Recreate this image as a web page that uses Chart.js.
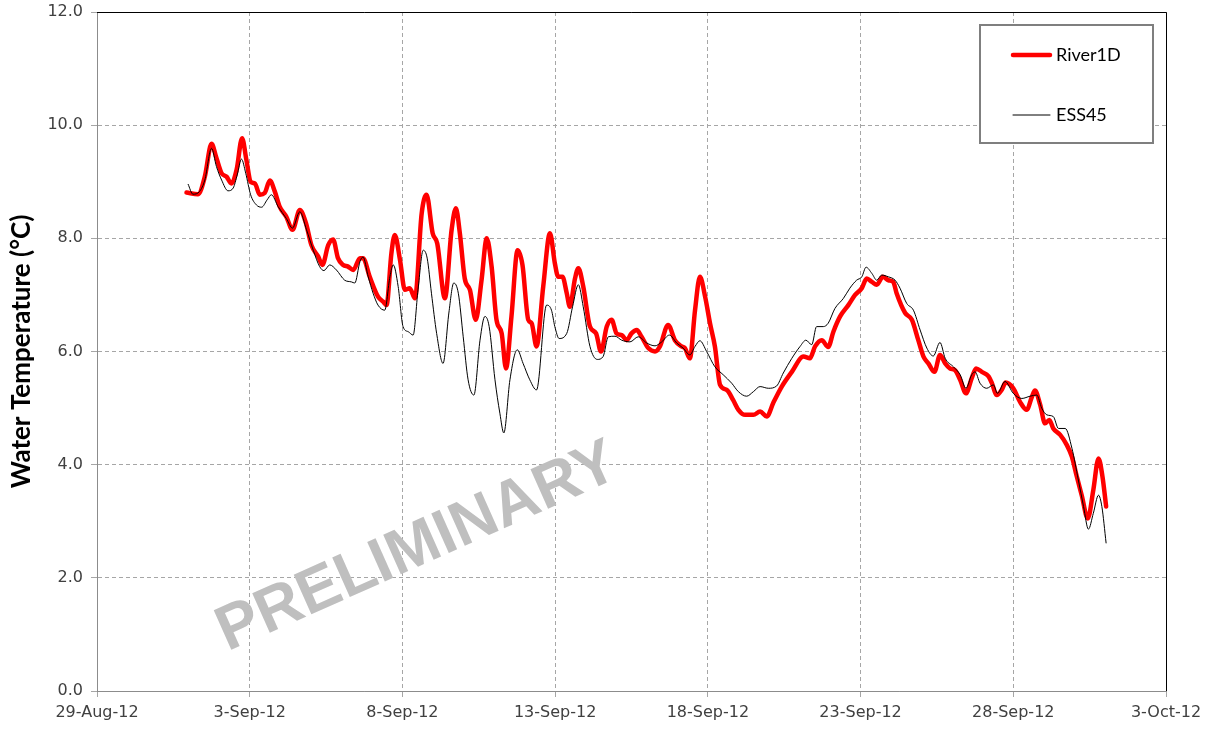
<!DOCTYPE html>
<html>
<head>
<meta charset="utf-8">
<script src="https://cdn.jsdelivr.net/npm/chart.js@4.4.1/dist/chart.umd.min.js"></script>
<style>
  html, body { margin: 0; padding: 0; background: #ffffff; }
  #wrap { width: 1213px; height: 734px; position: relative; }
</style>
</head>
<body>
<div id="wrap"><canvas id="chart" width="1213" height="734"></canvas></div>
<script>
// Time axis: days since 29-Aug-2012 00:00
const xTickLabels = ['29-Aug-12', '3-Sep-12', '8-Sep-12', '13-Sep-12', '18-Sep-12', '23-Sep-12', '28-Sep-12', '3-Oct-12'];

// River1D modelled water temperature (°C)
const river1dDays = [2.93,3.31,3.53,3.75,3.91,4.08,4.24,4.40,4.57,4.75,
  4.89,5.03,5.17,5.33,5.49,5.66,5.82,5.98,6.20,6.40,
  6.64,6.84,7.02,7.24,7.38,7.57,7.73,7.89,8.06,8.22,
  8.39,8.61,8.71,8.93,9.20,9.37,9.48,9.64,9.75,9.92,
  10.08,10.24,10.41,10.63,10.79,10.99,11.14,11.39,11.61,11.75,
  11.88,12.04,12.21,12.40,12.59,12.76,12.92,13.08,13.25,13.39,
  13.57,13.77,13.93,14.12,14.23,14.39,14.61,14.83,14.99,15.10,
  15.24,15.38,15.48,15.65,15.76,15.92,16.14,16.34,16.50,16.69,
  16.85,17.01,17.18,17.34,17.50,17.67,17.83,18.05,18.27,18.43,
  18.70,18.92,19.14,19.25,19.41,19.58,19.74,19.91,20.07,20.23,
  20.40,20.62,20.83,21.00,21.22,21.49,21.71,21.93,22.14,22.42,
  22.75,23.13,23.34,23.51,23.73,23.94,24.11,24.33,24.60,24.82,
  25.04,25.20,25.37,25.53,25.73,25.91,26.07,26.18,26.46,26.68,
  26.89,27.06,27.22,27.42,27.60,27.77,27.93,28.09,28.26,28.45,
  28.64,28.78,28.97,29.19,29.30,29.46,29.62,29.75,30.00,30.22,
  30.44,30.61,30.71,30.88,31.04,31.18,31.31,31.53,31.75,31.92,
  32.08,32.24,32.44,32.62,32.79,32.92,33.04];
const river1dTemps = [8.81,8.78,9.09,9.67,9.42,9.15,9.09,8.97,9.21,9.77,
  9.39,9.00,8.97,8.77,8.80,9.02,8.83,8.56,8.38,8.15,
  8.50,8.27,7.88,7.68,7.53,7.88,7.98,7.65,7.53,7.50,
  7.44,7.65,7.65,7.32,6.97,6.88,6.82,7.74,8.06,7.62,
  7.09,7.12,6.94,8.44,8.77,8.09,7.91,6.94,8.15,8.53,
  8.09,7.29,7.09,6.56,7.26,8.00,7.50,6.56,6.32,5.70,
  6.62,7.79,7.53,6.56,6.50,6.09,7.15,8.09,7.56,7.32,
  7.32,7.03,6.79,7.29,7.47,7.15,6.44,6.32,6.00,6.44,
  6.56,6.32,6.29,6.20,6.32,6.38,6.26,6.06,6.00,6.09,
  6.47,6.20,6.09,6.06,5.88,6.73,7.32,6.97,6.50,6.09,
  5.41,5.32,5.14,4.97,4.88,4.88,4.94,4.85,5.09,5.38,
  5.64,5.91,5.88,6.09,6.20,6.08,6.35,6.62,6.82,7.00,
  7.12,7.29,7.23,7.18,7.32,7.26,7.23,7.03,6.68,6.56,
  6.20,5.91,5.79,5.64,5.94,5.79,5.70,5.67,5.50,5.26,
  5.53,5.70,5.64,5.56,5.44,5.23,5.32,5.45,5.35,5.11,
  4.97,5.20,5.31,5.06,4.73,4.79,4.64,4.53,4.35,4.14,
  3.79,3.46,3.05,3.55,4.11,3.79,3.26];

// ESS45 measured water temperature (°C)
const ess45Days = [2.98,3.14,3.36,3.53,3.75,3.91,4.08,4.29,4.46,4.59,
  4.73,4.87,5.03,5.22,5.39,5.57,5.71,5.93,6.20,6.40,
  6.64,6.86,7.08,7.29,7.43,7.62,7.84,8.11,8.33,8.44,
  8.61,8.71,8.88,9.04,9.20,9.42,9.59,9.70,9.86,10.02,
  10.19,10.35,10.51,10.68,10.81,10.95,11.12,11.33,11.52,11.68,
  11.83,11.99,12.15,12.34,12.54,12.70,12.84,13.03,13.19,13.32,
  13.52,13.76,13.95,14.17,14.39,14.72,14.88,14.99,15.13,15.38,
  15.57,15.76,15.92,16.14,16.38,16.57,16.74,16.96,17.18,17.45,
  17.72,18.00,18.27,18.49,18.74,18.98,19.19,19.41,19.58,19.74,
  19.96,20.23,20.50,20.78,21.00,21.27,21.49,21.71,21.98,22.25,
  22.47,22.75,23.02,23.21,23.40,23.56,23.78,23.94,24.16,24.44,
  24.65,24.87,25.04,25.18,25.37,25.53,25.69,25.91,26.13,26.29,
  26.51,26.73,26.95,27.17,27.38,27.60,27.77,28.04,28.26,28.45,
  28.64,28.75,28.91,29.13,29.35,29.48,29.73,30.00,30.28,30.55,
  30.77,30.93,31.10,31.31,31.48,31.70,31.92,32.13,32.30,32.46,
  32.62,32.79,32.90,33.04];
const ess45Temps = [8.96,8.78,8.83,9.03,9.59,9.27,9.03,8.84,8.89,9.12,
  9.40,9.15,8.77,8.59,8.55,8.68,8.77,8.56,8.35,8.18,
  8.47,8.15,7.79,7.50,7.43,7.53,7.44,7.26,7.23,7.21,
  7.59,7.67,7.32,7.03,6.82,6.73,7.32,7.53,7.15,6.44,
  6.35,6.29,7.09,7.79,7.65,7.03,6.32,5.79,6.68,7.21,
  7.03,6.26,5.50,5.23,6.20,6.62,6.44,5.50,4.91,4.56,
  5.50,6.03,5.79,5.50,5.32,6.82,6.73,6.44,6.23,6.32,
  6.79,7.18,6.79,6.09,5.86,5.91,6.26,6.27,6.20,6.17,
  6.26,6.15,6.10,6.17,6.29,6.15,6.06,5.94,6.09,6.19,
  6.00,5.73,5.59,5.44,5.29,5.21,5.29,5.38,5.35,5.39,
  5.62,5.88,6.09,6.20,6.12,6.44,6.44,6.50,6.76,6.94,
  7.12,7.26,7.32,7.49,7.38,7.26,7.35,7.32,7.26,7.12,
  6.85,6.73,6.38,6.06,5.92,6.16,5.88,5.73,5.59,5.35,
  5.59,5.64,5.44,5.35,5.41,5.26,5.47,5.26,5.17,5.21,
  5.23,5.00,4.88,4.85,4.64,4.64,4.29,3.73,3.26,2.86,
  3.14,3.46,3.26,2.61];

const toPoints = (days, temps) => days.map((d, i) => ({ x: d, y: temps[i] }));

const gridColor = '#a6a6a6';
const tickFont = { family: 'DejaVu Sans', size: 16 };

// Diagonal "PRELIMINARY" stamp placed in data coordinates
const stampPlugin = {
  id: 'stamp',
  beforeDatasetsDraw(chart) {
    const { ctx, scales } = chart;
    const x = scales.x.getPixelForValue(10.5);
    const y = scales.y.getPixelForValue(2.53);
    ctx.save();
    ctx.translate(x, y);
    ctx.rotate(-24 * Math.PI / 180);
    ctx.font = 'bold 63px "Liberation Sans", Arial, sans-serif';
    ctx.fillStyle = '#bfbfbf';
    ctx.textAlign = 'center';
    ctx.textBaseline = 'middle';
    ctx.fillText('PRELIMINARY', 0, 0);
    ctx.restore();
  }
};

// Dark frame along the top and right of the plot area
const framePlugin = {
  id: 'frame',
  afterDatasetsDraw(chart) {
    const { ctx, chartArea: a } = chart;
    ctx.save();
    ctx.strokeStyle = '#000000';
    ctx.lineWidth = 1;
    ctx.beginPath();
    ctx.moveTo(a.left, a.top + 0.5);
    ctx.lineTo(a.right + 0.5, a.top + 0.5);
    ctx.lineTo(a.right + 0.5, a.bottom);
    ctx.stroke();
    ctx.restore();
  }
};

// Boxed legend inside the top-right corner of the plot
const boxLegendPlugin = {
  id: 'boxLegend',
  afterDraw(chart) {
    const { ctx, chartArea: a } = chart;
    const w = 173, h = 118;
    const left = a.right - 13 - w, top = a.top + 13;
    ctx.save();
    ctx.fillStyle = '#ffffff';
    ctx.fillRect(left, top, w, h);
    ctx.strokeStyle = '#7f7f7f';
    ctx.lineWidth = 2;
    ctx.strokeRect(left, top, w, h);
    const sets = chart.data.datasets;
    const rows = [sets.find(d => d.label === 'River1D'), sets.find(d => d.label === 'ESS45')];
    rows.forEach((ds, i) => {
      const y = top + 30 + i * 60;
      ctx.strokeStyle = ds.borderColor;
      ctx.lineWidth = ds.borderWidth;
      ctx.lineCap = 'round';
      ctx.beginPath();
      ctx.moveTo(left + 33, y);
      ctx.lineTo(left + 70, y);
      ctx.stroke();
      ctx.fillStyle = '#000000';
      ctx.font = '18px Lato, "Liberation Sans", sans-serif';
      ctx.textAlign = 'left';
      ctx.textBaseline = 'middle';
      ctx.fillText(ds.label, left + 76, y);
    });
    ctx.restore();
  }
};

const gridOptions = {
  color: gridColor,
  lineWidth: 1,
  tickBorderDash: [],
  tickColor: gridColor,
  tickLength: 6
};

new Chart(document.getElementById('chart'), {
  type: 'line',
  data: {
    datasets: [
      {
        label: 'River1D',
        data: toPoints(river1dDays, river1dTemps),
        borderColor: '#ff0000',
        borderWidth: 4.5,
        pointRadius: 0,
        cubicInterpolationMode: 'monotone',
        borderJoinStyle: 'round',
        borderCapStyle: 'round',
        order: 1
      },
      {
        label: 'ESS45',
        data: toPoints(ess45Days, ess45Temps),
        borderColor: '#000000',
        borderWidth: 1,
        pointRadius: 0,
        cubicInterpolationMode: 'monotone',
        order: 0
      }
    ]
  },
  options: {
    responsive: false,
    devicePixelRatio: 1,
    animation: false,
    layout: { padding: { top: 12, right: 47, left: 0, bottom: 0 } },
    plugins: {
      legend: { display: false },
      tooltip: { enabled: false }
    },
    scales: {
      x: {
        type: 'linear',
        min: 0,
        max: 35,
        afterFit(s) { s.height = 43; },
        ticks: {
          stepSize: 5,
          autoSkip: false,
          maxRotation: 0,
          padding: 6,
          color: '#404040',
          font: tickFont,
          callback: v => xTickLabels[Math.round(v / 5)]
        },
        grid: gridOptions,
        border: { color: '#8c8c8c', width: 1, dash: [4, 3] }
      },
      y: {
        min: 0,
        max: 12,
        afterFit(s) { s.width = 97; s.paddingTop = 0; s.paddingBottom = 0; },
        ticks: {
          stepSize: 2,
          padding: 8,
          color: '#404040',
          font: tickFont,
          callback: v => v.toFixed(1)
        },
        grid: gridOptions,
        border: { color: '#8c8c8c', width: 1, dash: [4, 3] },
        title: {
          display: true,
          text: 'Water Temperature (°C)',
          color: '#000000',
          font: { family: 'Lato', size: 26, weight: 'bold' },
          padding: { top: 6, bottom: 0 }
        }
      }
    }
  },
  plugins: [stampPlugin, framePlugin, boxLegendPlugin]
});
</script>
</body>
</html>
